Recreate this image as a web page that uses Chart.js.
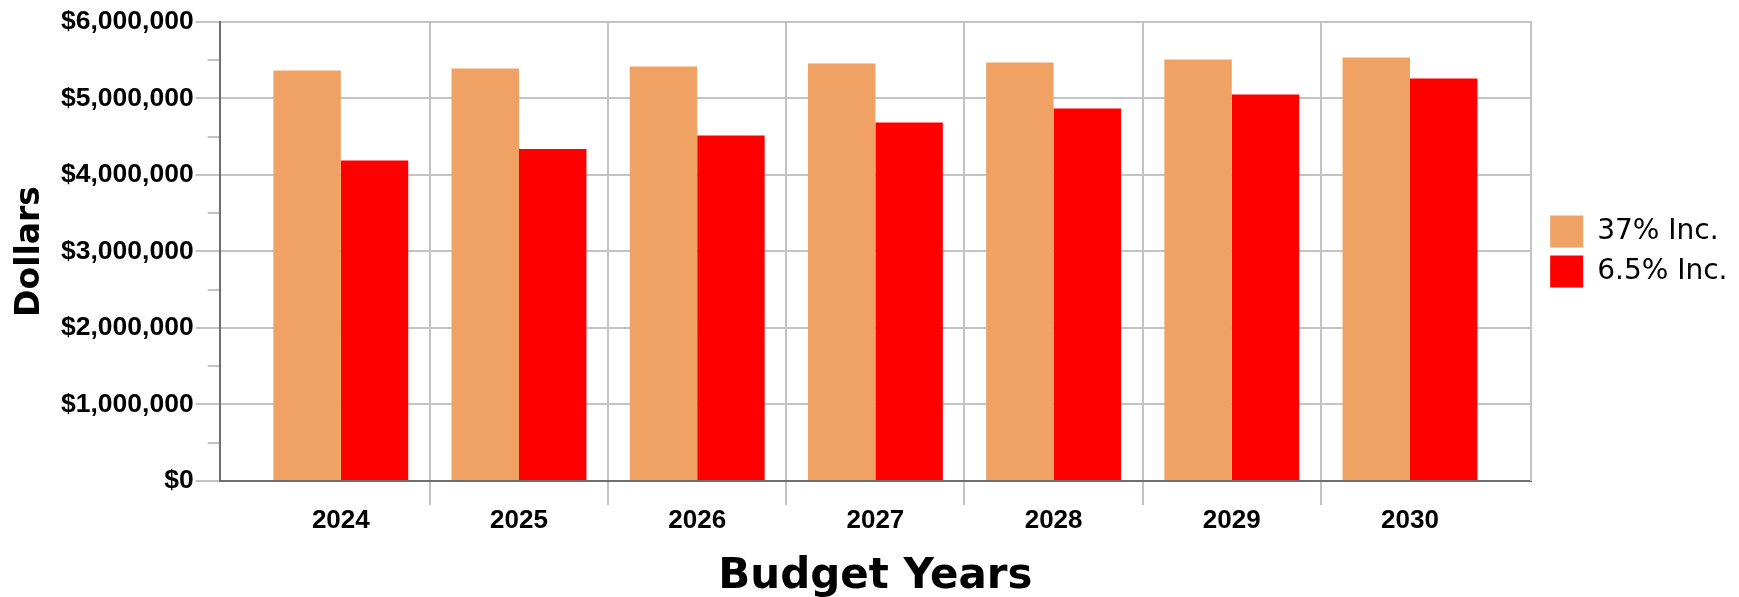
<!DOCTYPE html>
<html lang="en">
  <head>
    <meta charset="UTF-8" />
    <title>Budget Years</title>
    <script src="https://cdn.jsdelivr.net/npm/chart.js@4.4.1/dist/chart.umd.min.js"></script>
    <style>
      body { margin: 0; background: #fff; }
      #wrap { width: 1739px; height: 597px; }
    </style>
  </head>
  <body>
    <div id="wrap"><canvas id="myChart"></canvas></div>

    <script>
      // values (dollars)
      const years = [2024, 2025, 2026, 2027, 2028, 2029, 2030]
      const inc37 = [5367000, 5393000, 5419000, 5458000, 5472000, 5511000, 5537000]
      const inc65 = [4188000, 4341000, 4515000, 4685000, 4869000, 5052000, 5262000]
      const seriesNames = ['37% Inc.', '6.5% Inc.']
      const yTicks = [0, 1000000, 2000000, 3000000, 4000000, 5000000, 6000000]

      const gridGray = '#c3c3c3'
      const axisGray = '#6e6e6e'
      const side = 0.18 // empty room left/right of the first/last year

      const xMin = years[0] - 0.5 - side
      const xMax = years[years.length - 1] + 0.5 + side
      const yearEdges = years.slice(1).map(y => y - 0.5)

      const ctx = document.getElementById('myChart').getContext('2d')
      const myChart = new Chart(ctx, {
        type: 'bar',
        data: {
          datasets: [
            {
              label: seriesNames[0],
              data: years.map((y, i) => ({ x: y, y: inc37[i] })),
              backgroundColor: '#efa263',
              xAxisID: 'x',
              yAxisID: 'y'
            },
            {
              label: seriesNames[1],
              data: years.map((y, i) => ({ x: y, y: inc65[i] })),
              backgroundColor: '#ff0000',
              xAxisID: 'x',
              yAxisID: 'y'
            }
          ]
        },
        options: {
          responsive: true,
          maintainAspectRatio: false,
          animation: false,
          categoryPercentage: 0.757,
          barPercentage: 1.0,
          layout: { padding: { top: 22, right: 1.5, bottom: 0, left: 0 } },
          plugins: {
            tooltip: { enabled: false },
            legend: {
              position: 'right',
              fullSize: false,
              labels: {
                boxWidth: 33,
                boxHeight: 32,
                padding: 8,
                color: '#000',
                font: { family: 'DejaVu Sans', size: 28 }
              }
            }
          },
          scales: {
            // year labels + title
            x: {
              type: 'linear',
              position: 'bottom',
              weight: 1,
              offset: false,
              min: xMin,
              max: xMax,
              afterBuildTicks: s => { s.ticks = years.map(v => ({ value: v })) },
              grid: { display: false, drawTicks: false },
              border: { display: false },
              ticks: {
                autoSkip: false,
                maxRotation: 0,
                padding: 0,
                color: '#000',
                font: { family: 'Liberation Sans', size: 26, weight: 'bold' },
                callback: v => String(v)
              },
              title: {
                display: true,
                text: 'Budget Years',
                color: '#000',
                font: { family: 'DejaVu Sans', size: 42, weight: 'bold', lineHeight: 0.95 },
                padding: { top: 21, bottom: 0 }
              }
            },
            // vertical grid lines between years + bottom axis line
            xGrid: {
              type: 'linear',
              position: 'bottom',
              weight: 0,
              offset: false,
              min: xMin,
              max: xMax,
              afterBuildTicks: s => { s.ticks = yearEdges.map(v => ({ value: v })) },
              grid: { color: gridGray, lineWidth: 2, tickLength: 24, offset: false },
              border: { display: true, color: axisGray, width: 2 },
              ticks: { display: false }
            },
            y: {
              position: 'left',
              weight: 1,
              min: 0,
              max: 6000000,
              afterBuildTicks: s => { s.ticks = yTicks.map(v => ({ value: v })) },
              grid: { color: gridGray, lineWidth: 2, tickLength: 12 },
              border: { display: false },
              ticks: {
                padding: 2,
                color: '#000',
                font: { family: 'Liberation Sans', size: 26.5, weight: 'bold' },
                callback: v => '$' + v.toLocaleString('en-US')
              },
              title: {
                display: true,
                text: 'Dollars',
                color: '#000',
                font: { family: 'DejaVu Sans', size: 33, weight: 'bold', lineHeight: 1 },
                padding: { top: 14, bottom: 12 }
              }
            },
            // short ticks every $500,000 and the left axis line
            yMinor: {
              position: 'left',
              weight: 0,
              min: 0,
              max: 6000000,
              ticks: { display: false, stepSize: 500000 },
              grid: { color: gridGray, lineWidth: 2, tickLength: 12, drawOnChartArea: false },
              border: { display: true, color: axisGray, width: 2 }
            },
            // right frame line, with a little gap before the legend
            yRight: {
              position: 'right',
              min: 0,
              max: 6000000,
              ticks: { display: false },
              grid: { display: false, drawOnChartArea: false },
              border: { display: true, color: gridGray, width: 2 },
              afterFit: s => { s.width = 11 }
            }
          }
        }
      })
    </script>
  </body>
</html>
